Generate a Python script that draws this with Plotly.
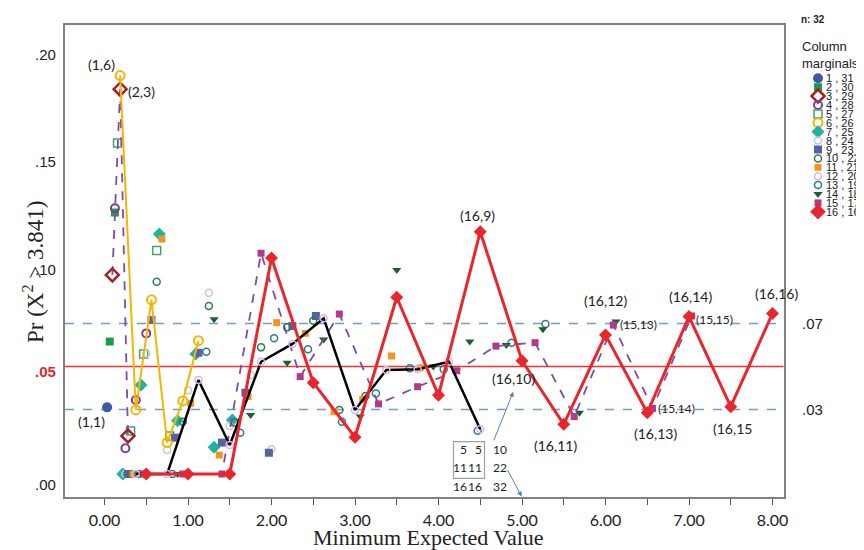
import plotly.graph_objects as go

# ---------------- data ----------------
N_TOTAL = 32
col_marginals = list(range(1, 17))
legend_labels = ["1 , 31", "2 , 30", "3 , 29", "4 , 28", "5 , 27", "6 , 26", "7 , 25", "8 , 24",
                 "9 , 23", "10 , 22", "11 , 21", "12 , 20", "13 , 19", "14 , 18", "15 , 17", "16 , 16"]

# Pr(X^2 > 3.841) for row marginal r = 1..c, per column marginal c
s1 = [0.031]
s2 = [0.0616, 0.1216]
s3 = [0.0926, 0.179, 0.0177]
s4 = [0.1236, 0.012, 0.0344, 0.0654]
s5 = [0.154, 0.020, 0.0558, 0.1039, 0.0177]
s6 = [0.1853, 0.0298, 0.081, 0.0146, 0.034, 0.062]
s7 = [0.0, 0.0414, 0.1116, 0.0248, 0.0558, 0.0124, 0.0251]
s8 = [0.0, 0.056, 0.0112, 0.039, 0.0843, 0.0223, 0.046, 0.0115]
s9 = [0.0, 0.0716, 0.0169, 0.0564, 0.0146, 0.0378, 0.0099, 0.0688, 0.0735]
s10 = [0.0, 0.0894, 0.0243, 0.0781, 0.0239, 0.0589, 0.0682, 0.0713, 0.0298, 0.0363]
s11 = [0.0, 0.1093, 0.0329, 0.0088, 0.036, 0.0704, 0.0654, 0.029, 0.0347, 0.0549, 0.0494]
s12 = [0.0, 0.0, 0.0437, 0.0135, 0.0522, 0.0605, 0.0724, 0.0298, 0.0484, 0.0487, 0.0522, 0.0208]
s13 = [0.0, 0.0, 0.0569, 0.0192, 0.0631, 0.058, 0.0243, 0.0375, 0.0492, 0.0487, 0.0201, 0.0611, 0.0698]
s14 = [0.0, 0.0, 0.072, 0.0274, 0.0518, 0.0626, 0.0267, 0.0949, 0.050, 0.0616, 0.060, 0.0673, 0.0285, 0.0709]
s15 = [0.0, 0.0, 0.0, 0.1027, 0.0453, 0.0744, 0.0326, 0.0406, 0.048, 0.0595, 0.0611, 0.0267, 0.0693, 0.0305, 0.0735]
s16 = [0.0, 0.0, 0.0, 0.1005, 0.0425, 0.0171, 0.0822, 0.0366, 0.1127, 0.0527, 0.0231, 0.0647, 0.0285, 0.0732, 0.0313, 0.0747]
series_values = [s1, s2, s3, s4, s5, s6, s7, s8, s9, s10, s11, s12, s13, s14, s15, s16]

xtick_vals = [0, 1, 2, 3, 4, 5, 6, 7, 8]
xtick_text = ["0.00", "1.00", "2.00", "3.00", "4.00", "5.00", "6.00", "7.00", "8.00"]
ytick_vals = [0.20, 0.15, 0.10, 0.05, 0.00]
ytick_text = [".20", ".15", ".10", ".05", ".00"]
alpha = 0.05
band = [0.03, 0.07]
band_text = [".03", ".07"]
table_rows = [[5, 5, 10], [11, 11, 22], [16, 16, 32]]

# point labels: (column marginal c, row marginal r, text)
point_labels = [(6, 1, "(1,6)"), (3, 2, "(2,3)"), (1, 1, "(1,1)"),
                (16, 9, "(16,9)"), (16, 10, "(16,10)"), (16, 11, "(16,11)"), (16, 12, "(16,12)"),
                (16, 13, "(16,13)"), (16, 14, "(16,14)"), (16, 15, "(16,15"), (16, 16, "(16,16)"),
                (15, 13, "(15,13)"), (15, 14, "(15,14)"), (15, 15, "(15,15)")]

# ---------------- geometry / styles ----------------
# the page places the figure 8px from the top-left corner; work in page pixels
OFF = 8
W, H = 864, 550
FIG_W, FIG_H = W - OFF, H - OFF
PLOT_L, PLOT_R, PLOT_T, PLOT_B = 65, 783.5, 25, 497
RIGHT_END = 860
X0PX, XSCALE = 104.5, 83.5
Y0PX, YSCALE = 474.0, 2150.0
PAPER_W = RIGHT_END - PLOT_L
PAPER_H = PLOT_B - PLOT_T


def px2x(px):
    return (px - X0PX) / XSCALE


def py2y(py):
    return (Y0PX - py) / YSCALE


def px2paper(px):
    return (px - PLOT_L) / PAPER_W


def py2paper(py):
    return (PLOT_B - py) / PAPER_H


marker_styles = [
    dict(symbol="circle", color="#3d5aa8", size=10),
    dict(symbol="square", color="#1f9a4a", size=8),
    dict(symbol="diamond-open", color="#a41e22", size=10, line=dict(width=2.5, color="#a41e22")),
    dict(symbol="circle-open", color="#7d3c98", size=8, line=dict(width=2, color="#7d3c98")),
    dict(symbol="square-open", color="#3fa56b", size=8, line=dict(width=1.5, color="#3fa56b")),
    dict(symbol="circle-open", color="#f7b500", size=9, line=dict(width=2, color="#f7b500")),
    dict(symbol="diamond", color="#1fb3a3", size=10),
    dict(symbol="circle-open", color="#c9c9c9", size=7, line=dict(width=1.5, color="#c9c9c9")),
    dict(symbol="square", color="#5b5ea8", size=8),
    dict(symbol="circle-open", color="#2e7d4f", size=7, line=dict(width=1.5, color="#2e7d4f")),
    dict(symbol="square", color="#f7941d", size=7),
    dict(symbol="circle-open", color="#dab6e6", size=7, line=dict(width=1.5, color="#dab6e6")),
    dict(symbol="circle-open", color="#2b7a98", size=7, line=dict(width=1.5, color="#2b7a98")),
    dict(symbol="triangle-down", color="#1b5e2a", size=8),
    dict(symbol="square", color="#b23a8c", size=7),
    dict(symbol="diamond", color="#e8262b", size=10),
]
line_styles = {
    15: dict(color="#7c4bab", width=1.8, dash="dash"),
    3: dict(color="#7c4bab", width=1.8, dash="dash"),
    6: dict(color="#f7b500", width=2),
    12: dict(color="black", width=2.5),
    16: dict(color="#e8262b", width=3),
}

fig = go.Figure()


def expected(c, vals):
    return [r * c / N_TOTAL for r in range(1, len(vals) + 1)]


# scatter-only series first
for c, vals, ms in zip(col_marginals, series_values, marker_styles):
    if c in line_styles:
        continue
    fig.add_trace(go.Scatter(x=expected(c, vals), y=vals, mode="markers", marker=ms,
                             showlegend=False, hoverinfo="skip"))
# line series on top
for c in [15, 3, 6, 12, 16]:
    vals = series_values[c - 1]
    fig.add_trace(go.Scatter(x=expected(c, vals), y=vals, mode="lines+markers",
                             line=line_styles[c], marker=marker_styles[c - 1],
                             showlegend=False, hoverinfo="skip"))

# custom legend on a hidden pixel-scaled axis
LEG_Y0, LEG_DY, LEG_MX, LEG_TX = 78.3, 8.9, 818, 825
for i, (lab, ms) in enumerate(zip(legend_labels, marker_styles)):
    lm = dict(ms)
    lm["size"] = ms["size"] + (2 if i == 15 else 0)
    fig.add_trace(go.Scatter(x=[LEG_MX], y=[LEG_Y0 + i * LEG_DY], xaxis="x2", yaxis="y2", mode="markers",
                             marker=lm, showlegend=False, hoverinfo="skip", cliponaxis=False))

annotations = []
for i, lab in enumerate(legend_labels):
    annotations.append(dict(xref="x2", yref="y2", x=LEG_TX, y=LEG_Y0 + i * LEG_DY, text=lab, showarrow=False,
                            xanchor="left", yanchor="middle", borderpad=0,
                            font=dict(family="Liberation Sans, Arial", size=11, color="#222")))
annotations.append(dict(xref="paper", yref="paper", x=px2paper(813), y=py2paper(19), text="<b>n: 32</b>",
                        showarrow=False, xanchor="center", yanchor="middle",
                        font=dict(family="Liberation Sans, Arial", size=10, color="#222")))
annotations.append(dict(xref="paper", yref="paper", x=px2paper(801), y=py2paper(55),
                        text="Column<br>marginals", showarrow=False, xanchor="left", yanchor="middle",
                        align="left", borderpad=0,
                        font=dict(family="Liberation Sans, Arial", size=13, color="#222")))

# y tick labels
for v, t in zip(ytick_vals, ytick_text):
    red = abs(v - alpha) < 1e-9
    annotations.append(dict(xref="paper", yref="y", x=px2paper(58), y=v, yshift=-5 if red else -10,
                            text=f"<b>{t}</b>" if red else t, showarrow=False, xanchor="right",
                            yanchor="middle",
                            font=dict(family="Liberation Sans, Arial", size=15,
                                      color="#e8262b" if red else "#222")))
# right-hand band labels
for v, t in zip(band, band_text):
    annotations.append(dict(xref="paper", yref="y", x=px2paper(800), y=v, text=t, showarrow=False,
                            xanchor="left", yanchor="middle",
                            font=dict(family="Liberation Sans, Arial", size=15, color="#222")))

# point labels anchored to their data points
label_offsets = {"(1,6)": (-19, 11), "(2,3)": (21, -2), "(1,1)": (-16, -14),
                 "(16,9)": (-3, 16), "(16,10)": (-9, -18), "(16,11)": (-8, -21), "(16,12)": (0, 34),
                 "(16,13)": (8, -21), "(16,14)": (1, 20), "(16,15": (2, -22), "(16,16)": (4, 20),
                 "(15,13)": (25, 1), "(15,14)": (24, 0), "(15,15)": (23, -4)}
for c, r, t in point_labels:
    dx, dy = label_offsets[t]
    small = t.startswith("(15")
    annotations.append(dict(xref="x", yref="y", x=r * c / N_TOTAL, y=series_values[c - 1][r - 1],
                            xshift=dx, yshift=dy, text=t, showarrow=False,
                            xanchor="center", yanchor="middle",
                            font=dict(family="Lato, Open Sans", size=12 if small else 14, color="#222")))

# 3x3 table
col_right = [467.5, 483, 508]
row_mid = [449.3, 467.5, 486]
for row, py in zip(table_rows, row_mid):
    for val, pxr in zip(row, col_right):
        annotations.append(dict(xref="paper", yref="paper", x=px2paper(pxr), y=py2paper(py), text=str(val),
                                showarrow=False, xanchor="right", yanchor="middle", borderpad=0,
                                font=dict(family="Lato, Open Sans", size=12, color="#222")))
# arrows
annotations.append(dict(xref="paper", yref="paper", x=px2paper(513.3), y=py2paper(391.7), ax=-20, ay=50,
                        text="", showarrow=True, arrowhead=2, arrowsize=1, arrowwidth=1,
                        arrowcolor="#4f81bd", standoff=0, startstandoff=0))
annotations.append(dict(xref="paper", yref="paper", x=px2paper(521.7), y=py2paper(496.5), ax=-15, ay=-28,
                        text="", showarrow=True, arrowhead=2, arrowsize=1, arrowwidth=1,
                        arrowcolor="#4f81bd", standoff=0, startstandoff=0))
# axis titles
annotations.append(dict(xref="paper", yref="paper", x=px2paper(428), y=py2paper(537),
                        text="Minimum Expected Value", showarrow=False, xanchor="center", yanchor="middle",
                        borderpad=0,
                        font=dict(family="Liberation Serif, Times New Roman", size=22, color="#222")))
annotations.append(dict(xref="paper", yref="paper", x=px2paper(33), y=py2paper(272), textangle=-90,
                        text="Pr (X<sup>2</sup> > 3.841)", showarrow=False, xanchor="center",
                        yanchor="middle",
                        font=dict(family="Liberation Serif, Times New Roman", size=23, color="#222")))

shapes = [
    dict(type="line", xref="x domain", yref="y", x0=0, x1=1, y0=alpha, y1=alpha,
         line=dict(color="#ee3333", width=1.5), layer="below"),
    dict(type="line", xref="x domain", yref="y", x0=0, x1=1, y0=band[0], y1=band[0],
         line=dict(color="#6f9bd1", width=1.3, dash="dash"), layer="below"),
    dict(type="line", xref="x domain", yref="y", x0=0, x1=1, y0=band[1], y1=band[1],
         line=dict(color="#6f9bd1", width=1.3, dash="dash"), layer="below"),
    dict(type="rect", xref="paper", yref="paper", x0=px2paper(453.5), x1=px2paper(484.5),
         y0=py2paper(478.3), y1=py2paper(441.7), line=dict(color="#a0a0a0", width=1.2)),
]

fig.update_layout(
    width=FIG_W, height=FIG_H,
    margin=dict(l=PLOT_L - OFF, r=W - RIGHT_END, t=PLOT_T - OFF, b=H - PLOT_B, autoexpand=False),
    plot_bgcolor="white", paper_bgcolor="white", showlegend=False,
    xaxis=dict(domain=[0, px2paper(PLOT_R)], range=[px2x(PLOT_L), px2x(PLOT_R)],
               showline=True, linecolor="#808080", linewidth=1.5, mirror=True,
               showgrid=False, zeroline=False, ticks="outside", ticklen=6, tickcolor="#555",
               tickvals=xtick_vals, ticktext=xtick_text, ticklabelstandoff=2,
               minor=dict(dtick=0.5, tick0=0, ticks="outside", ticklen=6, tickcolor="#555"),
               tickfont=dict(family="Lato, Open Sans", size=16, color="#222")),
    yaxis=dict(range=[py2y(PLOT_B), py2y(PLOT_T)], showline=True, linecolor="#808080", linewidth=1.5,
               mirror=True, showgrid=False, zeroline=False, showticklabels=False, ticks=""),
    xaxis2=dict(domain=[px2paper(784.5), 1.0], range=[784.5, RIGHT_END], anchor="y2", visible=False),
    yaxis2=dict(domain=[0, 1], range=[PLOT_B, PLOT_T], anchor="x2", visible=False),
    annotations=annotations, shapes=shapes,
)

fig.write_html("out.html")
